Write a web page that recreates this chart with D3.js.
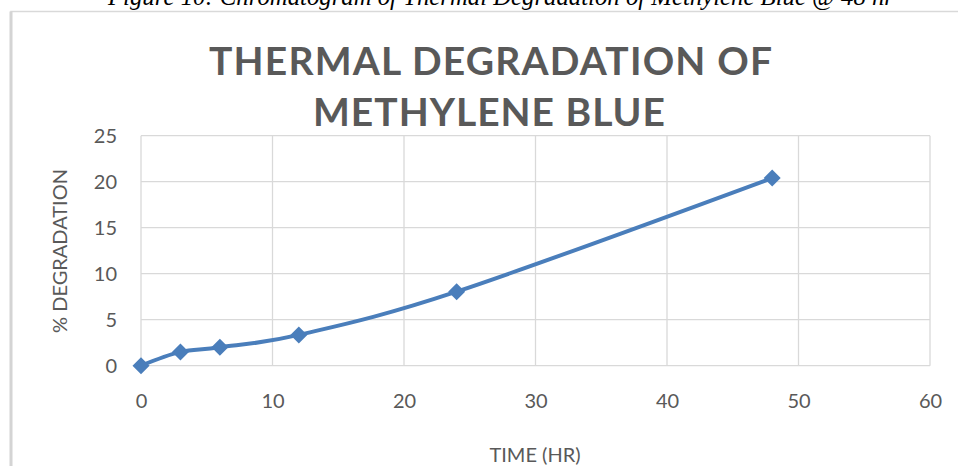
<!DOCTYPE html>
<html>
<head>
<meta charset="utf-8">
<script src="https://cdn.jsdelivr.net/npm/d3@7/dist/d3.min.js"></script>
<style>
  html, body { margin: 0; padding: 0; background: #fff; }
  svg { display: block; }
</style>
</head>
<body>
<svg id="chart" width="958" height="466"></svg>
<script>
// Thermal degradation of methylene blue over time
const timeHr = [0, 3, 6, 12, 24, 48];
const degradationPct = [0, 1.5, 2.0, 3.35, 8.05, 20.4];
const xTicks = [0, 10, 20, 30, 40, 50, 60];
const yTicks = [0, 5, 10, 15, 20, 25];
const titleLines = ["THERMAL DEGRADATION OF", "METHYLENE BLUE"];
const xLabel = "TIME (HR)";
const yLabel = "% DEGRADATION";
const caption = "Figure 10: Chromatogram of Thermal Degradation of Methylene Blue @ 48 hr";

const svg = d3.select("#chart");
const W = 958, H = 466;
const plot = { left: 141, right: 930, top: 135.7, bottom: 365.7 };
const textColor = "#595959";
const gridColor = "#d9d9d9";
const lineColor = "#4a7ebb";
const font = "Lato, 'Open Sans', sans-serif";

// Document caption above the chart frame
svg.append("text")
  .attr("x", 108).attr("y", 5)
  .attr("textLength", 786).attr("lengthAdjust", "spacingAndGlyphs")
  .style("font-family", "'Liberation Serif', 'Times New Roman', serif")
  .style("font-style", "italic")
  .style("font-size", "26px")
  .attr("fill", "#000")
  .text(caption);

// Chart frame
svg.append("rect")
  .attr("x", 11).attr("y", 11.5)
  .attr("width", W + 20).attr("height", H + 20)
  .attr("fill", "none")
  .attr("stroke", gridColor)
  .attr("stroke-width", 1.5);
svg.append("line")
  .attr("x1", 11).attr("x2", 11).attr("y1", 11.5).attr("y2", H)
  .attr("stroke", "#d4d4d4").attr("stroke-width", 3);

const x = d3.scaleLinear().domain([0, 60]).range([plot.left, plot.right]);
const y = d3.scaleLinear().domain([0, 25]).range([plot.bottom, plot.top]);

// Gridlines
const grid = svg.append("g").attr("stroke", gridColor).attr("stroke-width", 1.3);
grid.selectAll("line.h").data(yTicks).join("line")
  .attr("class", "h")
  .attr("x1", plot.left).attr("x2", plot.right)
  .attr("y1", d => y(d)).attr("y2", d => y(d));
grid.selectAll("line.v").data(xTicks).join("line")
  .attr("class", "v")
  .attr("x1", d => x(d)).attr("x2", d => x(d))
  .attr("y1", plot.top).attr("y2", plot.bottom);

// Axes (labels only; gridlines drawn above)
const xAxis = svg.append("g")
  .attr("transform", `translate(0,${plot.bottom})`)
  .call(d3.axisBottom(x).tickValues(xTicks).tickSize(0).tickPadding(33));
const yAxis = svg.append("g")
  .attr("transform", `translate(${plot.left},0)`)
  .call(d3.axisLeft(y).tickValues(yTicks).tickSize(0).tickPadding(24));
[xAxis, yAxis].forEach(g => {
  g.select(".domain").remove();
  g.selectAll("text")
    .style("font-family", font)
    .style("font-size", "20px")
    .attr("fill", textColor);
});
xAxis.selectAll("text").attr("dy", "0.45em");
yAxis.selectAll("text").attr("dy", "0.36em");

// Axis titles
svg.append("text")
  .attr("x", 535).attr("y", 462)
  .attr("text-anchor", "middle")
  .style("font-family", font).style("font-size", "20px")
  .attr("fill", textColor)
  .text(xLabel);
svg.append("text")
  .attr("transform", "translate(67,251) rotate(-90)")
  .attr("text-anchor", "middle")
  .style("font-family", font).style("font-size", "20px")
  .attr("fill", textColor)
  .text(yLabel);

// Chart title (letter-spaced, two lines)
const titleSpec = [
  { x: 209, y: 75, len: 563 },
  { x: 313, y: 126, len: 352 }
];
svg.selectAll("text.title").data(titleLines).join("text")
  .attr("class", "title")
  .attr("x", (d, i) => titleSpec[i].x)
  .attr("y", (d, i) => titleSpec[i].y)
  .attr("textLength", (d, i) => titleSpec[i].len)
  .attr("lengthAdjust", "spacing")
  .style("font-family", font)
  .style("font-weight", "bold")
  .style("font-size", "39px")
  .attr("fill", textColor)
  .text(d => d);

// Smoothed series line
const points = timeHr.map((t, i) => [t, degradationPct[i]]);
const line = d3.line()
  .x(d => x(d[0])).y(d => y(d[1]))
  .curve(d3.curveCardinal.tension(0));
svg.append("path")
  .datum(points)
  .attr("d", line)
  .attr("fill", "none")
  .attr("stroke", lineColor)
  .attr("stroke-width", 4)
  .attr("stroke-linejoin", "round")
  .attr("stroke-linecap", "round");

// Diamond markers
const r = 8.5;
svg.selectAll("path.marker").data(points).join("path")
  .attr("class", "marker")
  .attr("transform", d => `translate(${x(d[0])},${y(d[1])})`)
  .attr("d", `M0,${-r}L${r},0L0,${r}L${-r},0Z`)
  .attr("fill", lineColor);
</script>
</body>
</html>
